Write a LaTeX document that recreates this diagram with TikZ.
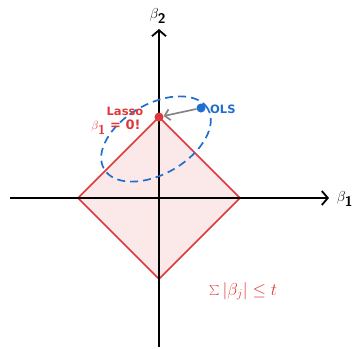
\documentclass[tikz,border=0pt]{standalone}
\usepackage{fontspec}
\newfontfamily\lblfont{DejaVu Sans}
\usetikzlibrary{arrows.meta}
\definecolor{lred}{HTML}{E0383A}
\definecolor{lblue}{HTML}{1F6FD0}
\definecolor{lpink}{HTML}{FBE9EA}
\definecolor{agray}{HTML}{858585}
\tikzset{
  axis/.style={line width=1.8pt, black, -{Straight Barb[length=6pt,width=14pt,line width=1.8pt]}},
  dot/.style={circle, inner sep=0pt, minimum size=9pt},
  lbl/.style={font=\lblfont\bfseries\fontsize{11.5}{13}\selectfont, inner sep=1pt},
  mlbl/.style={font=\fontsize{14}{16}\selectfont, inner sep=1pt},
}
\newcommand{\bsub}[1]{\beta_{\textsf{\textbf{#1}}}}
\begin{document}
\begin{tikzpicture}[x=1pt,y=-1pt]
\useasboundingbox (0,0) rectangle (356,348);
\coordinate (O) at (159,198);
\coordinate (T) at (159,117);
\coordinate (R) at (240,198);
\coordinate (B) at (159,279);
\coordinate (L) at (78,198);
\coordinate (xs) at (10,198);
\coordinate (xe) at (329,198);
\coordinate (ys) at (159,347);
\coordinate (ye) at (159,29);
% diamond
\draw[lred, fill=lpink, line width=1.6pt, line join=round] (T) -- (R) -- (B) -- (L) -- cycle;
% axes
\draw[axis] (xs) -- (xe);
\draw[axis] (ys) -- (ye);
\node[mlbl] (bx) at (345,199) {$\bsub{1}$};
\node[mlbl] (by) at (158,16) {$\bsub{2}$};
% ellipse
\coordinate (ec) at (156,139);
\draw[lblue, line width=1.7pt, dash pattern=on 8pt off 5pt, rotate around={30:(ec)}] (ec) ellipse [x radius=60pt, y radius=35pt];
% points
\node[dot, fill=lred] (lasso) at (T) {};
\node[dot, fill=lblue] (ols) at (201,108) {};
\draw[agray, line width=1.7pt, -{Straight Barb[length=5pt,width=11pt,line width=1.7pt]}] (ols) -- (lasso);
% labels
\node[lbl, text=lblue, anchor=west] (olst) at (209,109) {OLS};
\node[lbl, text=lred] (lassot) at (125,111) {Lasso};
\node[lbl, text=lred, font=\lblfont\bfseries\fontsize{13}{15}\selectfont] (zero) at (116,127) {$\bsub{1}$ = 0!};
\node[text=lred, font=\fontsize{17}{19}\selectfont] (cons) at (243,291) {$\sum|\beta_j|\le t$};
\end{tikzpicture}
\end{document}
